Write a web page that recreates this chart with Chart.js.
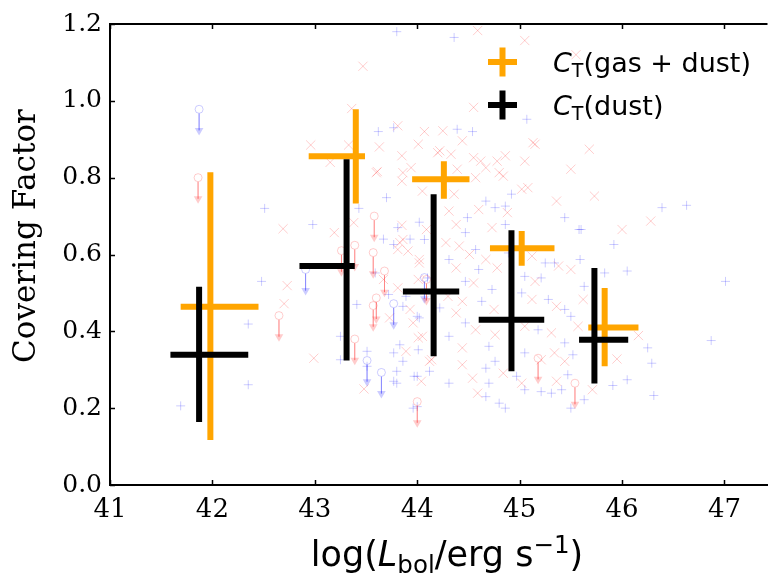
<!DOCTYPE html>
<html>
<head>
<meta charset="utf-8">
<script src="https://cdn.jsdelivr.net/npm/chart.js@4.4.0/dist/chart.umd.min.js"></script>
<style>
html, body { margin: 0; padding: 0; background: #fff; }
#wrap { width: 775px; height: 573px; }
</style>
</head>
<body>
<div id="wrap"><canvas id="myChart"></canvas></div>
<script>
// binned C_T(gas + dust), orange
const gdX   = [41.98, 43.40, 44.26, 45.02, 45.83];
const gdXlo = [41.69, 42.94, 43.95, 44.71, 45.67];
const gdXhi = [42.45, 43.49, 44.51, 45.34, 46.16];
const gdY   = [0.464, 0.856, 0.796, 0.616, 0.410];
const gdYlo = [0.117, 0.733, 0.745, 0.571, 0.309];
const gdYhi = [0.814, 0.978, 0.843, 0.661, 0.513];

// binned C_T(dust), black
const dX   = [41.87, 43.31, 44.16, 44.92, 45.73];
const dXlo = [41.59, 42.85, 43.86, 44.60, 45.58];
const dXhi = [42.35, 43.39, 44.41, 45.24, 46.06];
const dY   = [0.339, 0.570, 0.504, 0.430, 0.378];
const dYlo = [0.164, 0.324, 0.335, 0.296, 0.264];
const dYhi = [0.516, 0.848, 0.757, 0.663, 0.565];

// individual sources, blue +
const blueX = [43.80,43.62,43.77,42.51,42.98,43.70,43.43,43.67,43.81,43.93,44.02,
  44.36,45.07,44.39,44.54,44.67,44.92,44.76,45.44,45.58,46.39,46.63,45.92,44.86,44.49,
  44.47,44.86,44.57,44.31,44.60,44.47,44.73,44.63,44.22,44.47,44.31,44.70,45.05,45.21,45.02,45.28,
  45.44,45.18,45.44,45.05,45.60,45.59,45.63,45.50,44.89,45.25,45.34,
  44.31,44.67,44.70,44.67,44.80,44.86,44.97,45.05,45.21,45.31,45.41,45.47,45.50,45.63,44.76,
  46.31,46.05,45.91,46.25,46.29,46.87,47.01,46.05,45.83,45.52,
  41.69,42.35,42.35,42.48,43.25,43.25,43.51,43.41,43.77,43.80,43.83,44.00,44.00,44.00,44.07,
  43.77,43.72,43.89,43.86,43.59,44.10,43.51,43.77,43.86,43.80,43.97,44.12,43.96,44.01,44.02];
const blueY = [1.180,0.920,0.930,0.720,0.678,0.748,0.720,0.640,0.670,0.640,0.684,
  1.165,0.952,0.926,0.920,0.739,0.757,0.722,0.696,0.665,0.722,0.728,0.626,0.726,0.696,
  0.657,0.678,0.613,0.587,0.561,0.530,0.509,0.478,0.461,0.422,0.387,0.361,0.543,0.539,0.500,0.483,
  0.457,0.404,0.370,0.344,0.665,0.587,0.517,0.439,0.604,0.578,0.578,
  0.265,0.304,0.265,0.230,0.213,0.200,0.283,0.248,0.243,0.239,0.248,0.287,0.200,0.222,0.322,
  0.233,0.274,0.259,0.357,0.317,0.376,0.530,0.557,0.552,0.339,
  0.206,0.261,0.419,0.530,0.326,0.387,0.348,0.470,0.270,0.296,0.365,0.439,0.283,0.204,0.639,
  0.626,0.496,0.491,0.465,0.552,0.539,0.309,0.344,0.322,0.265,0.283,0.296,0.200,0.352,0.435];

// individual sources, red x
const redX = [43.47,43.36,42.96,43.33,43.15,43.81,43.63,43.85,43.61,43.86,44.07,44.01,43.94,42.69,43.19,43.38,43.85,44.09,
  44.59,45.05,45.55,44.55,45.15,45.68,44.20,44.62,44.86,45.05,45.50,44.80,44.57,45.02,45.36,45.73,44.60,46.28,46.00,
  44.25,44.44,44.22,44.33,44.55,44.67,44.78,45.13,44.39,44.84,45.08,44.36,44.88,44.31,
  44.38,44.73,44.28,44.41,44.51,44.67,44.78,44.38,44.55,44.30,44.44,44.38,44.75,44.57,44.76,44.44,
  45.15,45.12,45.36,45.05,45.31,45.34,45.50,45.38,45.62,45.57,45.12,
  44.44,44.54,44.59,44.84,45.02,45.21,45.36,45.44,46.16,45.95,45.71,
  42.73,42.70,42.99,43.48,43.89,44.01,44.04,44.12,43.93,44.02,43.83,43.91,43.73,43.96,
  43.60,43.85,43.86,43.81,44.02,44.05,43.67,43.81,44.01,44.05,44.14];
const redY = [1.090,0.980,0.885,0.885,0.840,0.935,0.880,0.857,0.816,0.813,0.920,0.887,0.826,0.667,0.657,0.683,0.676,0.665,
  1.183,1.157,1.120,0.983,0.887,0.874,0.865,0.843,0.857,0.843,0.822,0.813,0.800,0.770,0.739,0.752,0.717,0.687,0.665,
  0.922,0.896,0.870,0.861,0.852,0.826,0.843,0.891,0.822,0.804,0.774,0.757,0.709,0.713,
  0.678,0.670,0.631,0.622,0.600,0.587,0.565,0.565,0.526,0.491,0.478,0.448,0.457,0.404,0.391,0.357,
  0.530,0.483,0.465,0.413,0.396,0.344,0.561,0.570,0.483,0.413,0.596,
  0.313,0.278,0.239,0.291,0.265,0.326,0.270,0.322,0.389,0.328,0.248,
  0.519,0.472,0.330,0.250,0.348,0.383,0.270,0.322,0.457,0.587,0.631,0.609,0.435,0.422,
  0.813,0.791,0.639,0.613,0.578,0.765,0.535,0.513,0.535,0.387,0.326];

// upper limits (circle + down arrow)
const blueLimX = [41.87, 42.91, 43.77, 43.51, 43.65, 44.07];
const blueLimY = [0.978, 0.561, 0.472, 0.324, 0.293, 0.540];
const redLimX = [41.86, 43.58, 42.65, 43.39, 43.26, 43.57, 43.68, 43.39, 43.57, 43.60, 44.00, 45.54, 45.18, 44.09];
const redLimY = [0.800, 0.700, 0.441, 0.624, 0.610, 0.605, 0.557, 0.380, 0.467, 0.487, 0.217, 0.265, 0.330, 0.535];

const xTicks = [41, 42, 43, 44, 45, 46, 47];
const yTicks = [0.0, 0.2, 0.4, 0.6, 0.8, 1.0, 1.2];

const ORANGE = '#ffa500';
const BLUE = 'rgba(0,0,255,0.2)';
const RED = 'rgba(255,0,0,0.2)';

function pts(xs, ys) { return xs.map((x, i) => ({x: x, y: ys[i]})); }

// vertical + horizontal bar for each bin, y:null breaks the line
function crossSegs(xs, xlo, xhi, ys, ylo, yhi) {
  const out = [];
  xs.forEach((x, i) => {
    out.push({x: x, y: ylo[i]}, {x: x, y: yhi[i]}, {x: x, y: null});
    out.push({x: xlo[i], y: ys[i]}, {x: xhi[i], y: ys[i]}, {x: xhi[i], y: null});
  });
  return out;
}

const ARROW = 0.055;  // arrow length in data units
function arrowSegs(xs, ys) {
  const out = [];
  xs.forEach((x, i) => out.push({x: x, y: ys[i] - 0.011}, {x: x, y: ys[i] - ARROW}, {x: x, y: null}));
  return out;
}
function arrowHeads(xs, ys) { return xs.map((x, i) => ({x: x, y: ys[i] - ARROW})); }

function segDs(data, color, width, order) {
  return { type: 'line', data: data, borderColor: color, borderWidth: width, borderCapStyle: 'butt',
    pointRadius: 0, spanGaps: false, fill: false, order: order };
}

// inward ticks + top frame
const framePlugin = {
  id: 'frame',
  afterDraw(chart) {
    const {ctx, chartArea: a, scales} = chart;
    ctx.save();
    ctx.strokeStyle = '#000';
    ctx.lineWidth = 2;
    ctx.beginPath();
    ctx.moveTo(a.left - 1, a.top);
    ctx.lineTo(a.right, a.top);
    ctx.stroke();
    ctx.lineWidth = 1.5;
    ctx.beginPath();
    xTicks.forEach(v => {
      const px = Math.round(scales.x.getPixelForValue(v)) + 0.5;
      ctx.moveTo(px, a.bottom); ctx.lineTo(px, a.bottom - 5);
      ctx.moveTo(px, a.top); ctx.lineTo(px, a.top + 5);
    });
    yTicks.forEach(v => {
      const py = Math.round(scales.y.getPixelForValue(v)) + 0.5;
      ctx.moveTo(a.left, py); ctx.lineTo(a.left + 5, py);
    });
    ctx.stroke();
    ctx.restore();
  }
};

// draws a run of [text, font, dy] pieces
function drawRich(ctx, parts, x, y, align) {
  let w = 0;
  parts.forEach(p => { ctx.font = p[1]; w += ctx.measureText(p[0]).width; });
  let cx = align === 'center' ? x - w / 2 : x;
  parts.forEach(p => {
    ctx.font = p[1];
    ctx.fillText(p[0], cx, y + p[2]);
    cx += ctx.measureText(p[0]).width;
  });
}

const textPlugin = {
  id: 'texts',
  afterDraw(chart) {
    const ctx = chart.ctx;
    ctx.save();
    ctx.fillStyle = '#000';
    ctx.textBaseline = 'alphabetic';
    ctx.textAlign = 'left';

    // x axis title
    const S = '35px "DejaVu Sans"', s = '24.5px "DejaVu Sans"';
    drawRich(ctx, [['log(', S, 0], ['L', 'oblique ' + S, 0], ['bol', s, 7],
      ['/erg s', S, 0], ['\u22121', s, -13], [')', S, 0]], 447, 566, 'center');

    // y axis title
    ctx.save();
    ctx.translate(35, 236);
    ctx.rotate(-Math.PI / 2);
    ctx.textAlign = 'center';
    ctx.font = '31px "DejaVu Serif"';
    ctx.fillText('Covering Factor', 0, 0);
    ctx.restore();

    // legend
    const L = '27px "DejaVu Sans"', l = '19px "DejaVu Sans"';
    const rows = [[ORANGE, 62, 'gas + dust'], ['#000', 105, 'dust']];
    rows.forEach(r => {
      ctx.strokeStyle = r[0];
      ctx.lineWidth = 6;
      ctx.beginPath();
      ctx.moveTo(488, r[1]); ctx.lineTo(517, r[1]);
      ctx.moveTo(502.5, r[1] - 14.5); ctx.lineTo(502.5, r[1] + 14.5);
      ctx.stroke();
      drawRich(ctx, [['C', 'oblique ' + L, 0], ['T', l, 5], ['(' + r[2] + ')', L, 0]], 553, r[1] + 10, 'left');
    });
    ctx.restore();
  }
};

const ctx = document.getElementById('myChart');

new Chart(ctx, {
  type: 'scatter',
  data: {
    datasets: [
      segDs(crossSegs(dX, dXlo, dXhi, dY, dYlo, dYhi), '#000', 6, 0),
      segDs(crossSegs(gdX, gdXlo, gdXhi, gdY, gdYlo, gdYhi), ORANGE, 6, 1),
      { data: pts(blueX, blueY), pointStyle: 'cross', pointRadius: 4.5, pointBorderWidth: 1,
        borderColor: BLUE, backgroundColor: BLUE, order: 5 },
      { data: pts(redX, redY), pointStyle: 'crossRot', pointRadius: 6.5, pointBorderWidth: 1,
        borderColor: RED, backgroundColor: RED, order: 4 },
      { data: pts(blueLimX, blueLimY), pointStyle: 'circle', pointRadius: 4, pointBorderWidth: 1,
        borderColor: BLUE, backgroundColor: 'rgba(0,0,0,0)', order: 3 },
      segDs(arrowSegs(blueLimX, blueLimY), BLUE, 1, 3),
      { data: arrowHeads(blueLimX, blueLimY), pointStyle: 'triangle', rotation: 180, pointRadius: 5,
        pointBorderWidth: 0, borderColor: BLUE, backgroundColor: BLUE, order: 3 },
      { data: pts(redLimX, redLimY), pointStyle: 'circle', pointRadius: 4, pointBorderWidth: 1,
        borderColor: RED, backgroundColor: 'rgba(0,0,0,0)', order: 2 },
      segDs(arrowSegs(redLimX, redLimY), RED, 1, 2),
      { data: arrowHeads(redLimX, redLimY), pointStyle: 'triangle', rotation: 180, pointRadius: 5,
        pointBorderWidth: 0, borderColor: RED, backgroundColor: RED, order: 2 }
    ]
  },
  options: {
    responsive: true,
    maintainAspectRatio: false,
    animation: false,
    layout: { padding: { top: 24, right: 0, left: 0, bottom: 0 } },
    plugins: { legend: { display: false }, tooltip: { enabled: false } },
    scales: {
      x: {
        type: 'linear', min: 41, max: 47.42,
        afterBuildTicks: s => { s.ticks = xTicks.map(v => ({value: v})); },
        afterFit: s => { s.height = 88; },
        grid: { display: false, drawTicks: false },
        border: { display: true, color: '#000', width: 2 },
        ticks: { color: '#000', padding: 10, font: { family: 'DejaVu Serif', size: 26 },
          callback: v => String(v) }
      },
      y: {
        type: 'linear', min: 0, max: 1.2,
        afterBuildTicks: s => { s.ticks = yTicks.map(v => ({value: v})); },
        afterFit: s => { s.width = 110; },
        grid: { display: false, drawTicks: false },
        border: { display: true, color: '#000', width: 2 },
        ticks: { color: '#000', padding: 8, font: { family: 'DejaVu Serif', size: 25 },
          callback: v => Number(v).toFixed(1) }
      }
    }
  },
  plugins: [framePlugin, textPlugin]
});
</script>
</body>
</html>
